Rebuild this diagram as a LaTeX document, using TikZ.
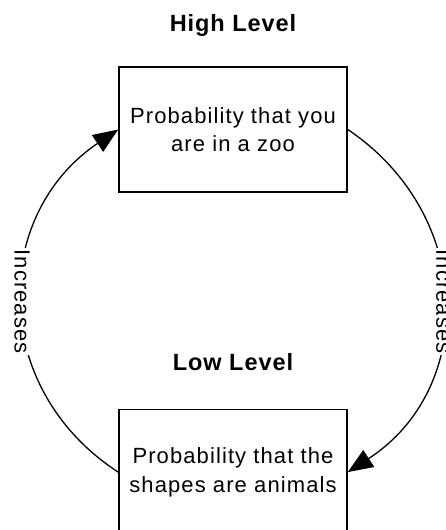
\documentclass[tikz,border=0pt]{standalone}
\usepackage{fontspec}
\setmainfont{Liberation Sans}[LetterSpace=5]
\usetikzlibrary{positioning, arrows.meta}

\begin{document}
\begin{tikzpicture}[
    x=1pt, y=1pt,
    every node/.style={font=\fontsize{22}{28.5}\selectfont},
    box/.style={
        rectangle,
        draw,
        line width=1.6pt,
        minimum width=228pt,
        minimum height=125pt,
        inner sep=0pt,
        align=center
    },
    level/.style={
        font=\fontsize{23.5}{28.5}\selectfont\bfseries\addfontfeatures{LetterSpace=4},
        inner sep=0pt
    },
    arrow/.style={
        -{Triangle[length=25pt, width=20pt]},
        line width=1.3pt
    },
    arclabel/.style={
        rotate=-90,
        fill=white,
        inner sep=1.5pt
    }
]

\useasboundingbox (0,0) rectangle (445,530);

% Blocs
\node[box] (zoo) at (233,400.5) {Probability that you\\are in a zoo};

\node[box, below=216pt of zoo] (shapes) {Probability that the\\shapes are animals};


% Niveaux
\node[level, above=35pt of zoo, anchor=base] (high) {High Level};

\node[level, above=38pt of shapes, anchor=base] (low) {Low Level};


% Shapes -> Zoo : gauche
\draw[arrow]
    (shapes.west)
    to[out=147, in=214, looseness=1.15]
    node[arclabel] {Increases}
    (zoo.west);


% Zoo -> Shapes : droite
\draw[arrow]
    (zoo.east)
    to[out=-34, in=33, looseness=1.15]
    node[arclabel] {Increases}
    (shapes.east);

\end{tikzpicture}
\end{document}
